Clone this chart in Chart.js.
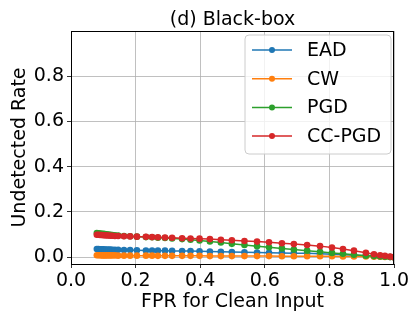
<!DOCTYPE html>
<html>
<head>
<meta charset="utf-8">
<script src="https://cdn.jsdelivr.net/npm/chart.js@4.4.0/dist/chart.umd.min.js"></script>
<style>
  html, body { margin: 0; padding: 0; background: #fff; }
  #wrap { width: 420px; height: 322px; }
</style>
</head>
<body>
<div id="wrap"><canvas id="myChart" width="420" height="322"></canvas></div>
<script>
// FPR for clean input (shared by all attacks)
const fpr = [0.080, 0.085, 0.090, 0.095, 0.100, 0.105, 0.110, 0.116, 0.122, 0.128, 0.136, 0.146,
  0.164, 0.183, 0.204, 0.232, 0.251, 0.269, 0.291, 0.313, 0.344, 0.370,
  0.398, 0.430, 0.464, 0.498, 0.537, 0.576, 0.613, 0.653, 0.690, 0.731,
  0.771, 0.808, 0.842, 0.876, 0.913, 0.938, 0.957, 0.972, 0.988, 1.000];

const ead = [0.036, 0.036, 0.035, 0.035, 0.035, 0.034, 0.034, 0.034, 0.034, 0.033, 0.033, 0.033,
  0.032, 0.032, 0.031, 0.030, 0.030, 0.029, 0.029, 0.028, 0.027, 0.027,
  0.026, 0.025, 0.024, 0.023, 0.022, 0.021, 0.020, 0.019, 0.018, 0.017,
  0.015, 0.013, 0.011, 0.009, 0.007, 0.005, 0.004, 0.003, 0.001, 0.000];
const cw = [0.009, 0.009, 0.009, 0.008, 0.008, 0.008, 0.008, 0.008, 0.008, 0.008, 0.008, 0.007,
  0.007, 0.007, 0.007, 0.007, 0.007, 0.006, 0.006, 0.006, 0.006, 0.006,
  0.006, 0.005, 0.005, 0.005, 0.005, 0.005, 0.005, 0.004, 0.004, 0.004,
  0.004, 0.004, 0.003, 0.003, 0.003, 0.002, 0.002, 0.001, 0.001, 0.000];
const pgd = [0.107, 0.106, 0.105, 0.104, 0.103, 0.102, 0.101, 0.100, 0.099, 0.098, 0.097, 0.096,
  0.094, 0.093, 0.091, 0.089, 0.088, 0.086, 0.085, 0.083, 0.080, 0.077,
  0.074, 0.070, 0.065, 0.059, 0.054, 0.049, 0.044, 0.039, 0.034, 0.029,
  0.024, 0.019, 0.015, 0.011, 0.007, 0.005, 0.003, 0.002, 0.001, 0.000];
const ccpgd = [0.099, 0.099, 0.098, 0.098, 0.097, 0.097, 0.096, 0.096, 0.095, 0.095, 0.094, 0.094,
  0.093, 0.092, 0.091, 0.090, 0.089, 0.088, 0.087, 0.086, 0.084, 0.083,
  0.082, 0.080, 0.077, 0.075, 0.072, 0.069, 0.066, 0.062, 0.058, 0.054,
  0.049, 0.043, 0.036, 0.029, 0.020, 0.013, 0.009, 0.006, 0.003, 0.000];

const seriesNames = ['EAD', 'CW', 'PGD', 'CC-PGD'];
const seriesColors = ['#1f77b4', '#ff7f0e', '#2ca02c', '#d62728'];
const xTicks = [0, 0.2, 0.4, 0.6, 0.8, 1.0];
const yTicks = [0, 0.2, 0.4, 0.6, 0.8];
const chartTitle = '(d) Black-box';

const FONT = 'DejaVu Sans';

function pts(ys) {
  return fpr.map((x, i) => ({ x: x, y: ys[i] }));
}

const allSeries = [ead, cw, pgd, ccpgd];
const datasets = allSeries.map((ys, i) => ({
  label: seriesNames[i],
  data: pts(ys),
  borderColor: seriesColors[i],
  backgroundColor: seriesColors[i],
  borderWidth: 1.5,
  pointRadius: 3.3,
  pointHoverRadius: 3.3,
  pointBorderWidth: 0,
  tension: 0,
  fill: false,
  order: allSeries.length - i   // later series on top, like matplotlib
}));

// frame on all four sides, title over the plot area, matplotlib style legend
const framePlugin = {
  id: 'frame',
  afterDraw(chart) {
    const ctx = chart.ctx;
    const a = chart.chartArea;
    ctx.save();
    ctx.strokeStyle = '#000';
    ctx.lineWidth = 1;
    ctx.strokeRect(Math.round(a.left) + 0.5, Math.round(a.top) + 0.5,
      Math.round(a.right - a.left) - 1, Math.round(a.bottom - a.top));

    // title centred on the axes
    ctx.fillStyle = '#000';
    ctx.font = '19px "' + FONT + '"';
    ctx.textAlign = 'center';
    ctx.textBaseline = 'alphabetic';
    ctx.fillText(chartTitle, (a.left + a.right) / 2, a.top - 6);

    // legend box
    const bx = a.right - 149, by = a.top + 4, bw = 146, bh = 119, r = 4;
    ctx.beginPath();
    ctx.moveTo(bx + r, by);
    ctx.lineTo(bx + bw - r, by);
    ctx.quadraticCurveTo(bx + bw, by, bx + bw, by + r);
    ctx.lineTo(bx + bw, by + bh - r);
    ctx.quadraticCurveTo(bx + bw, by + bh, bx + bw - r, by + bh);
    ctx.lineTo(bx + r, by + bh);
    ctx.quadraticCurveTo(bx, by + bh, bx, by + bh - r);
    ctx.lineTo(bx, by + r);
    ctx.quadraticCurveTo(bx, by, bx + r, by);
    ctx.closePath();
    ctx.fillStyle = 'rgba(255,255,255,0.8)';
    ctx.fill();
    ctx.strokeStyle = '#cccccc';
    ctx.lineWidth = 1;
    ctx.stroke();

    ctx.font = '19px "' + FONT + '"';
    ctx.textBaseline = 'middle';
    ctx.textAlign = 'left';
    chart.data.datasets.forEach((ds, i) => {
      const y = by + 15 + i * 28.7;
      ctx.strokeStyle = ds.borderColor;
      ctx.lineWidth = 1.5;
      ctx.beginPath();
      ctx.moveTo(bx + 7, y);
      ctx.lineTo(bx + 47, y);
      ctx.stroke();
      ctx.fillStyle = ds.borderColor;
      ctx.beginPath();
      ctx.arc(bx + 27, y, 3, 0, Math.PI * 2);
      ctx.fill();
      ctx.fillStyle = '#000';
      ctx.fillText(ds.label, bx + 62, y + 1);
    });
    ctx.restore();
  }
};

const config = {
  type: 'line',
  data: { datasets: datasets },
  options: {
    responsive: false,
    animation: false,
    layout: { padding: { left: 0, right: 26, top: 31, bottom: 0 } },
    plugins: {
      legend: { display: false },
      tooltip: { enabled: false },
      title: { display: false }
    },
    scales: {
      x: {
        type: 'linear',
        min: 0,
        max: 1,
        afterBuildTicks: (s) => { s.ticks = xTicks.map(v => ({ value: v })); },
        afterFit: (s) => { s.height = 58; },
        grid: { color: '#b0b0b0', lineWidth: 0.8, tickColor: '#000', tickLength: 4 },
        border: { color: '#000', width: 1 },
        ticks: {
          color: '#000',
          font: { family: FONT, size: 19 },
          padding: 2,
          maxRotation: 0,
          callback: (v) => Number(v).toFixed(1)
        },
        title: {
          display: true,
          text: 'FPR for Clean Input',
          color: '#000',
          font: { family: FONT, size: 19 },
          padding: { top: 2, bottom: 9 }
        }
      },
      y: {
        type: 'linear',
        min: -0.03,
        max: 1.0,
        afterBuildTicks: (s) => { s.ticks = yTicks.map(v => ({ value: v })); },
        afterFit: (s) => { s.width = 71; },
        grid: { color: '#b0b0b0', lineWidth: 0.8, tickColor: '#000', tickLength: 4 },
        border: { color: '#000', width: 1 },
        ticks: {
          color: '#000',
          font: { family: FONT, size: 19 },
          padding: 3,
          callback: (v) => Number(v).toFixed(1)
        },
        title: {
          display: true,
          text: 'Undetected Rate',
          color: '#000',
          font: { family: FONT, size: 19 },
          padding: { top: 9, bottom: 0 }
        }
      }
    }
  },
  plugins: [framePlugin]
};

var ctx = document.getElementById('myChart').getContext('2d');
grafica = new Chart(ctx, config);
</script>
</body>
</html>
